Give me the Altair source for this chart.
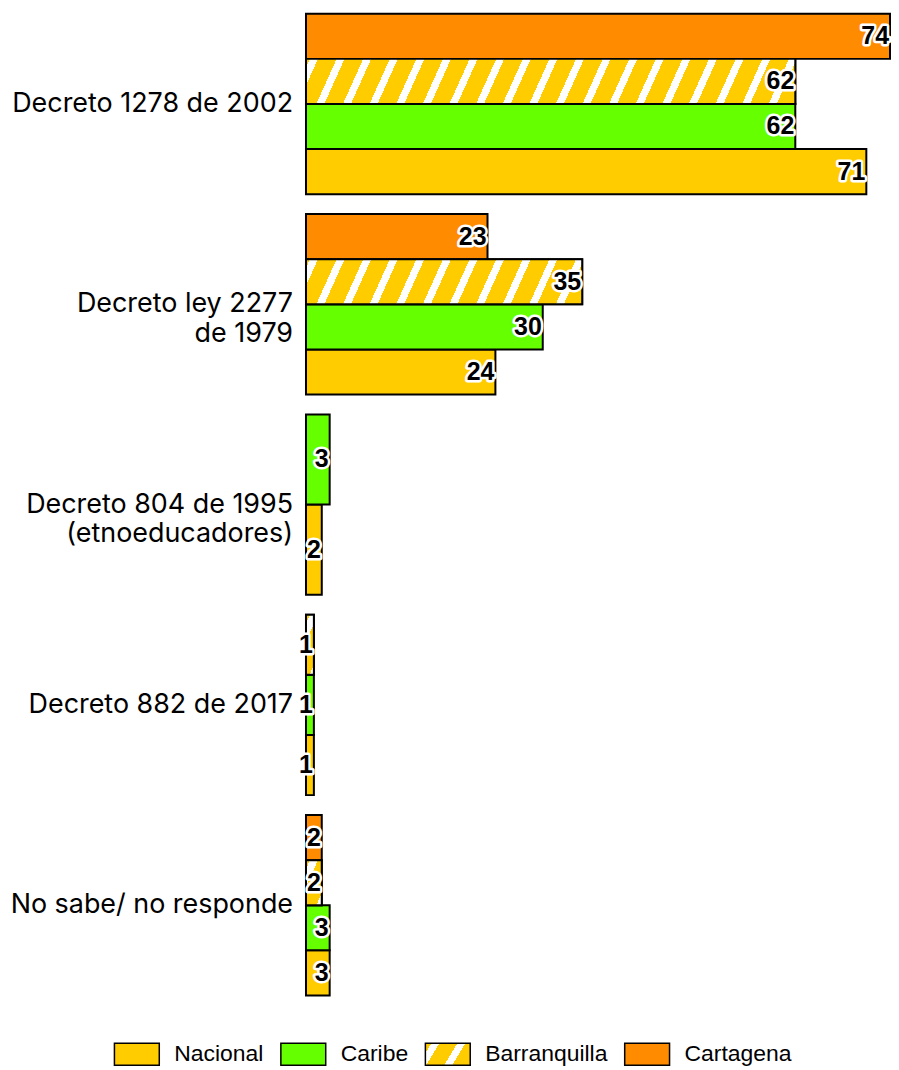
import altair as alt
import pandas as pd

# ---- data ----
categories = [
    "Decreto 1278 de 2002",
    "Decreto ley 2277\nde 1979",
    "Decreto 804 de 1995\n(etnoeducadores)",
    "Decreto 882 de 2017",
    "No sabe/ no responde",
]
series_top_to_bottom = ["Cartagena", "Barranquilla", "Caribe", "Nacional"]
legend_order = ["Nacional", "Caribe", "Barranquilla", "Cartagena"]

nacional = [71, 24, 2, 1, 3]
caribe = [62, 30, 3, 1, 3]
barranquilla = [62, 35, None, 1, 2]
cartagena = [74, 23, None, None, 2]

YELLOW = "#FFCC00"
GREEN = "#66FF00"
ORANGE = "#FF8C00"
WHITE = "#FFFFFF"
colors = [YELLOW, GREEN, YELLOW, ORANGE]

# ---- layout / style constants ----
XMAX = 74
PLOT_W = 586          # pixels used by the 0..74 range
LABEL_W = 292         # room kept left of zero for the category labels
VIEW_W = PLOT_W + LABEL_W
XMIN = -XMAX * LABEL_W / PLOT_W
CELL_H = 181
SPACING = 18
SW_W, SW_H = 45, 22

rows = []
for ci, cat in enumerate(categories):
    for name, vals in [("Nacional", nacional), ("Caribe", caribe),
                       ("Barranquilla", barranquilla), ("Cartagena", cartagena)]:
        v = vals[ci]
        if v is not None:
            rows.append({"category": cat, "ci": ci, "series": name, "value": v})
df = pd.DataFrame(rows)


def stripe_gradient(W, H, period=26.7, white=8.0, s=0.45, phase=4.0):
    """Diagonal '/' stripes expressed as a linear gradient in bbox units."""
    L = W + s * H
    k = L / (W * W + s * s * H * H)
    stops = [{"offset": 0, "color": YELLOW}]
    x = phase
    while x < L:
        a = max(0.0, x / L)
        b = min(1.0, (x + white) / L)
        stops += [
            {"offset": round(a, 5), "color": YELLOW},
            {"offset": round(a, 5), "color": WHITE},
            {"offset": round(b, 5), "color": WHITE},
            {"offset": round(b, 5), "color": YELLOW},
        ]
        x += period
    stops.append({"offset": 1, "color": YELLOW})
    return {"gradient": "linear", "x1": 0, "y1": 0,
            "x2": round(W * k, 5), "y2": round(s * H * k, 5), "stops": stops}


color_scale = alt.Scale(domain=legend_order, range=colors)
x_scale = alt.Scale(domain=[XMIN, XMAX], nice=False, zero=False)
x_enc = alt.X("value:Q", scale=x_scale, axis=None)
y_enc = alt.Y("series:N", sort=series_top_to_bottom, axis=None,
              scale=alt.Scale(paddingInner=0, paddingOuter=0))

base = alt.Chart(df)

bars = base.mark_bar(stroke="black", strokeWidth=2).encode(
    x=x_enc,
    x2=alt.datum(0),
    y=y_enc,
    color=alt.Color("series:N", scale=color_scale, legend=None),
)

hatch_layers = []
for ci, cat in enumerate(categories):
    v = barranquilla[ci]
    if v is None:
        continue
    n_bars = sum(1 for s in (nacional, caribe, barranquilla, cartagena) if s[ci] is not None)
    W = v / XMAX * PLOT_W
    H = CELL_H / n_bars
    hatch_layers.append(
        base.transform_filter(f"datum.series === 'Barranquilla' && datum.ci === {ci}")
        .mark_bar(fill=stripe_gradient(W, H), stroke="black", strokeWidth=2)
        .encode(x=x_enc, x2=alt.datum(0), y=y_enc)
    )

label_kw = dict(align="right", baseline="middle", dx=-1, font="Liberation Sans",
                fontSize=25, fontWeight="bold")
halo = base.mark_text(stroke="white", strokeWidth=5, strokeJoin="round",
                      fill="white", **label_kw).encode(x=x_enc, y=y_enc, text="value:Q")
txt = base.mark_text(fill="black", **label_kw).encode(x=x_enc, y=y_enc, text="value:Q")

# category label, drawn left of the bars of each panel
cat_label = (
    base.transform_aggregate(n="count()", groupby=["category"])
    .mark_text(align="right", baseline="middle", dx=-13, font="Inter", fontSize=27,
               lineBreak="\n", lineHeight=30, color="black")
    .encode(x=alt.datum(0, scale=x_scale), y=alt.value(CELL_H / 2), text="category:N")
)

layered = alt.layer(bars, *hatch_layers, halo, txt, cat_label).properties(
    width=VIEW_W, height=CELL_H)

main = layered.facet(
    row=alt.Row("category:N", sort=categories, header=None),
    spacing=SPACING,
).resolve_scale(y="independent")

# ---- legend: one swatch + label per series ----
legend_df = pd.DataFrame({"series": legend_order})
items = []
for name in legend_order:
    src = alt.Chart(legend_df).transform_filter(alt.datum.series == name)
    if name == "Barranquilla":
        swatch = src.mark_rect(
            fill=stripe_gradient(SW_W, SW_H, period=26, white=8, s=0.6, phase=6),
            stroke="black", strokeWidth=1.5).encode(detail="series:N")
    else:
        swatch = src.mark_rect(stroke="black", strokeWidth=1.5).encode(
            color=alt.Color("series:N", scale=color_scale, legend=None))
    label = src.mark_text(align="left", baseline="middle", dx=15,
                          font="Liberation Sans", fontSize=23, color="black").encode(
        x=alt.value(SW_W), y=alt.value(SW_H / 2), text="series:N")
    items.append(alt.layer(swatch, label).properties(width=SW_W, height=SW_H))
legend_row = alt.hconcat(*items, spacing=16)

chart = (
    alt.vconcat(main, legend_row, spacing=46, center=True)
    .properties(padding={"left": 2, "top": 3, "right": 0, "bottom": 0})
    .configure_view(stroke=None)
)

chart.save("out.html", embed_options={"renderer": "svg", "actions": False})
